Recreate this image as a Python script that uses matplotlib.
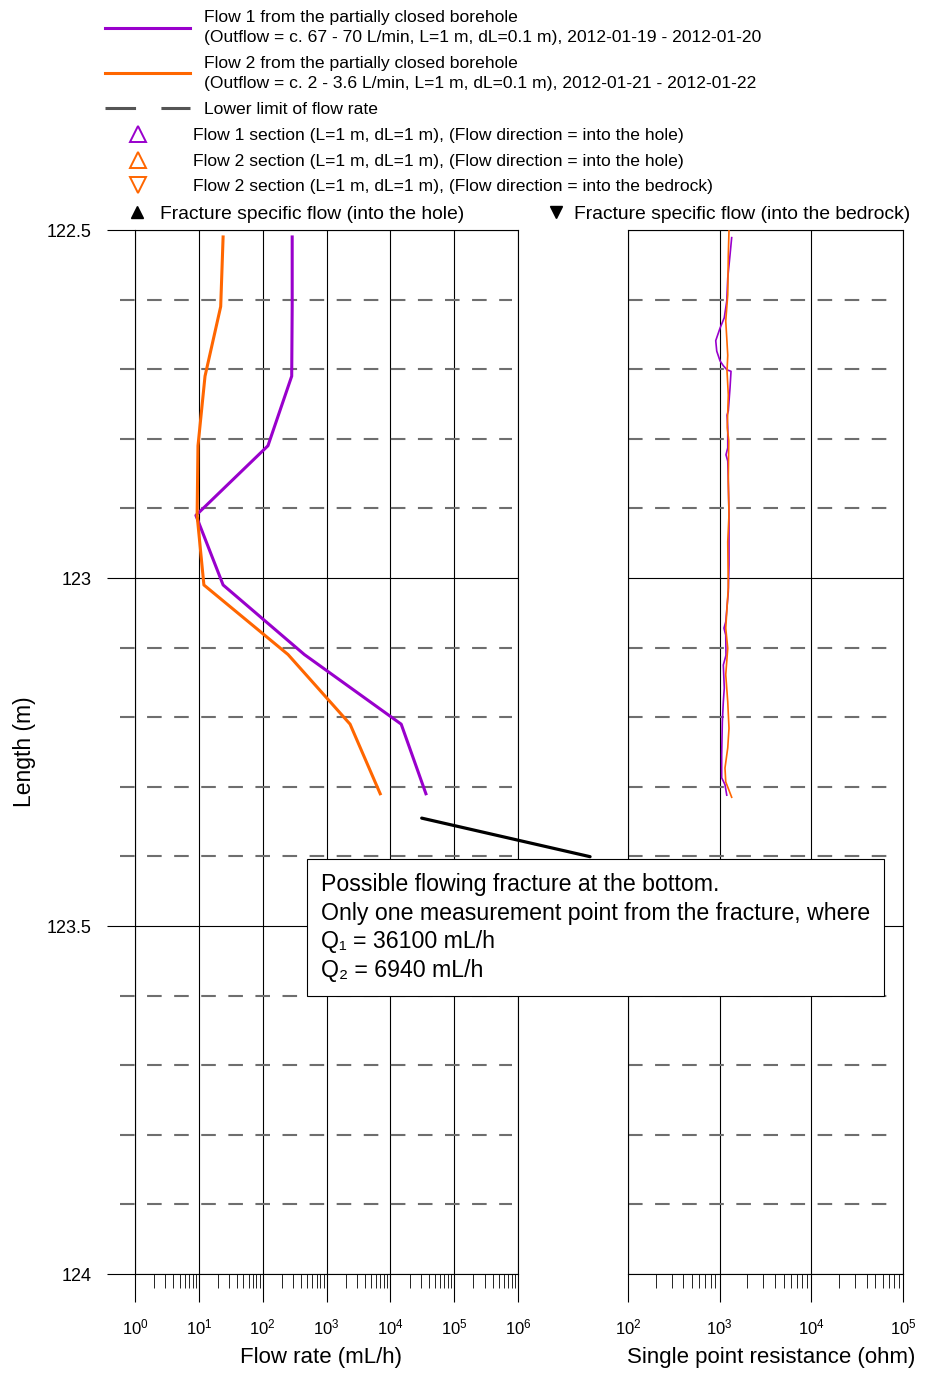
import numpy as np
import matplotlib.pyplot as plt
from matplotlib.lines import Line2D
from matplotlib.ticker import FormatStrFormatter

plt.rcParams['font.family'] = ['Liberation Sans', 'DejaVu Sans']
plt.rcParams['mathtext.fontset'] = 'custom'
plt.rcParams['mathtext.rm'] = 'Liberation Sans'
plt.rcParams['mathtext.it'] = 'Liberation Sans:italic'
plt.rcParams['mathtext.default'] = 'regular'

# flow logging, L=1 m sections (mL/h)
flow_depth = [122.51, 122.61, 122.71, 122.81, 122.91, 123.01, 123.11, 123.21, 123.31]
flow1 = [290, 290, 285, 121, 9.0, 24, 450, 14800, 36100]
flow2 = [24, 22, 12.5, 9.7, 9.4, 12, 250, 2340, 6940]

# single point resistance (ohm)
spr_depth1 = [122.511, 122.536, 122.569, 122.602, 122.626, 122.641, 122.659, 122.674,
              122.688, 122.695, 122.701, 122.703, 122.727, 122.760, 122.766, 122.784,
              122.813, 122.823, 122.832, 122.861, 122.909, 122.981, 123.020, 123.063,
              123.072, 123.082, 123.111, 123.125, 123.158, 123.178, 123.207, 123.254,
              123.287, 123.297, 123.312]
spr1 = [1352, 1297, 1225, 1195, 1123, 1009, 906, 929, 1009, 1096, 1203, 1330, 1297,
        1242, 1203, 1225, 1225, 1172, 1225, 1242, 1264, 1264, 1242, 1165, 1114, 1165,
        1172, 1096, 1123, 1096, 1069, 1052, 1052, 1143, 1195]
spr_depth2 = [122.501, 122.536, 122.593, 122.631, 122.655, 122.680, 122.703, 122.737,
              122.784, 122.803, 122.861, 122.909, 122.948, 123.014, 123.072, 123.101,
              123.139, 123.178, 123.216, 123.244, 123.273, 123.293, 123.305, 123.315]
spr2 = [1264, 1242, 1225, 1165, 1195, 1225, 1203, 1242, 1210, 1257, 1242, 1264, 1225,
        1242, 1165, 1225, 1165, 1225, 1264, 1225, 1143, 1165, 1264, 1352]

major_depths = [122.5, 123, 123.5, 124]
minor_depths = [122.6, 122.7, 122.8, 122.9, 123.1, 123.2, 123.3, 123.4,
                123.6, 123.7, 123.8, 123.9]

purple = '#9900cc'
orange = '#ff6600'
W, H = 927, 1374

fig = plt.figure(figsize=(W / 100, H / 100), dpi=100)
ax1 = fig.add_axes([135 / W, 1 - 1274 / H, 383 / W, 1044 / H])
ax2 = fig.add_axes([628 / W, 1 - 1274 / H, 275 / W, 1044 / H])

for ax in (ax1, ax2):
    ax.set_xscale('log')
    ax.set_ylim(124, 122.5)
    ax.set_yticks(major_depths)
    ax.grid(True, which='major', color='black', lw=0.8)
    ax.tick_params(axis='x', which='major', direction='out', length=20, width=0.8,
                   pad=11, labelsize=12)
    ax.tick_params(axis='x', which='minor', direction='out', length=10, width=0.6)
    for s in ax.spines.values():
        s.set_linewidth(0.8)

ax1.set_xlim(1, 1e6)
ax2.set_xlim(1e2, 1e5)
ax1.yaxis.set_major_formatter(FormatStrFormatter('%g'))
ax1.tick_params(axis='y', direction='out', length=20, width=0.8, pad=11, labelsize=13)
ax2.tick_params(axis='y', length=0, labelleft=False)

for d in minor_depths:
    ax1.axhline(d, xmin=-0.04, xmax=0.984, color='#6e6e6e', lw=1.5, dashes=(7, 6),
                clip_on=False)
    ax2.axhline(d, xmin=0, xmax=0.971, color='#6e6e6e', lw=1.5, dashes=(7, 6))

ax1.plot(flow1, flow_depth, color=purple, lw=2.2, zorder=3)
ax1.plot(flow2, flow_depth, color=orange, lw=2.2, zorder=3)
ax2.plot(spr1, spr_depth1, color=purple, lw=1.2, zorder=3)
ax2.plot(spr2, spr_depth2, color=orange, lw=1.2, zorder=3)

ax1.set_ylabel('Length (m)', fontsize=16.5)
ax1.yaxis.set_label_coords(-0.258, 0.5)
ax1.set_xlabel('Flow rate (mL/h)', fontsize=16)
ax1.xaxis.set_label_coords(0.485, -0.070)
ax2.set_xlabel('Single point resistance (ohm)', fontsize=16)
ax2.xaxis.set_label_coords(0.52, -0.070)

# note about the fracture at the bottom
note = ('Possible flowing fracture at the bottom.\n'
        'Only one measurement point from the fracture, where\n'
        'Q\u2081 = 36100 mL/h\n'
        'Q\u2082 = 6940 mL/h')
ax2.annotate(note, xy=(3.1e4, 123.345), xycoords=ax1.transData,
             xytext=(321 / W, 1 - 873 / H), textcoords='figure fraction',
             ha='left', va='top', fontsize=16.7, linespacing=1.31,
             bbox=dict(boxstyle='square,pad=0.6', fc='white', ec='black', lw=0.8),
             arrowprops=dict(arrowstyle='-', lw=2.3, color='black', patchA=None,
                             shrinkA=0, shrinkB=0, relpos=(0.49, 1.15)),
             annotation_clip=False, zorder=10)

# legends
fs = 12.6
h_lines = [Line2D([], [], color=purple, lw=2.2),
           Line2D([], [], color=orange, lw=2.2),
           Line2D([], [], color='#555555', lw=2.2, dashes=(10, 8.3))]
l_lines = ['Flow 1 from the partially closed borehole\n'
           '(Outflow = c. 67 - 70 L/min, L=1 m, dL=0.1 m), 2012-01-19 - 2012-01-20',
           'Flow 2 from the partially closed borehole\n'
           '(Outflow = c. 2 - 3.6 L/min, L=1 m, dL=0.1 m), 2012-01-21 - 2012-01-22',
           'Lower limit of flow rate']
leg_a = fig.legend(h_lines, l_lines, loc='upper left', bbox_to_anchor=(105 / W, 1 - 10 / H),
                   frameon=False, fontsize=fs, handlelength=4.86, handletextpad=0.8,
                   borderpad=0, borderaxespad=0, labelspacing=0.6)
for t in leg_a.get_texts():
    t.set_linespacing(1.45)

h_sec = [Line2D([], [], ls='none', marker='^', ms=11, mfc='none', mec=purple, mew=1.4),
         Line2D([], [], ls='none', marker='^', ms=11, mfc='none', mec=orange, mew=1.4),
         Line2D([], [], ls='none', marker='v', ms=11, mfc='none', mec=orange, mew=1.4)]
l_sec = ['Flow 1 section (L=1 m, dL=1 m), (Flow direction = into the hole)',
         'Flow 2 section (L=1 m, dL=1 m), (Flow direction = into the hole)',
         'Flow 2 section (L=1 m, dL=1 m), (Flow direction = into the bedrock)']
leg_b = fig.legend(h_sec, l_sec, loc='center left', bbox_to_anchor=(120.5 / W, 1 - 161 / H),
                   frameon=False, fontsize=fs, handlelength=2, handletextpad=2.14,
                   borderpad=0, borderaxespad=0, labelspacing=0.6)

leg_c = fig.legend([Line2D([], [], ls='none', marker='^', ms=9, color='black')],
                   ['Fracture specific flow (into the hole)'],
                   loc='center left', bbox_to_anchor=(127.4 / W, 1 - 214 / H),
                   frameon=False, fontsize=13.9, handlelength=1, handletextpad=0.69,
                   borderpad=0, borderaxespad=0)
leg_d = fig.legend([Line2D([], [], ls='none', marker='v', ms=9, color='black')],
                   ['Fracture specific flow (into the bedrock)'],
                   loc='center left', bbox_to_anchor=(546.4 / W, 1 - 214 / H),
                   frameon=False, fontsize=13.9, handlelength=1, handletextpad=0.43,
                   borderpad=0, borderaxespad=0)

fig.savefig('out.png', dpi=100)
